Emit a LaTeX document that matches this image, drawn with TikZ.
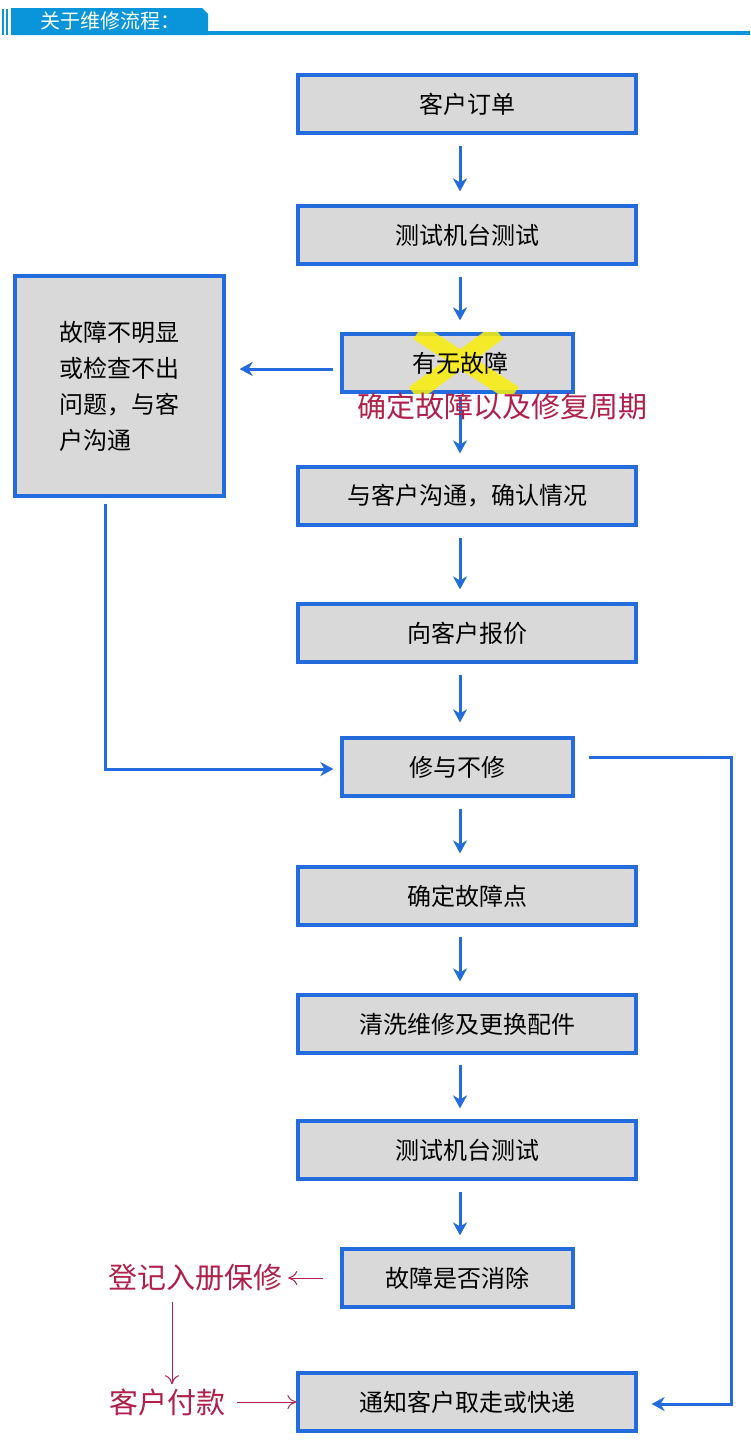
\documentclass[tikz,border=0pt]{standalone}
\usepackage{fontspec}
\setmainfont{Noto Sans CJK SC}
\usetikzlibrary{arrows.meta}
\definecolor{boxblue}{RGB}{36,108,222}
\definecolor{boxgray}{RGB}{217,217,217}
\definecolor{notered}{RGB}{176,32,74}
\definecolor{headblue}{RGB}{10,148,218}
\definecolor{markyellow}{RGB}{250,238,10}

\begin{document}
\begin{tikzpicture}[x=1pt,y=-1pt,
  stage/.style={draw=boxblue,line width=3.2pt,fill=boxgray,minimum height=58pt,inner sep=0pt,font=\fontsize{24}{28}\selectfont},
  wide/.style={stage,minimum width=338pt},
  narrow/.style={stage,minimum width=231pt},
  flow/.style={draw=boxblue,line width=3pt,-{Stealth[length=13pt,width=14pt,inset=4pt]}},
  note/.style={text=notered,inner sep=0pt,font=\fontsize{29}{32}\selectfont},
  memo/.style={draw=notered,line width=1pt,-{To[length=9pt,width=14pt]}}]
  \useasboundingbox (0,0) rectangle (750,1446);
  \fill[headblue] (2,9) rectangle (4,35);
  \fill[headblue] (6,9) rectangle (8,35);
  \fill[headblue] (11,8) -- (202,8) -- (208,14) -- (208,35) -- (11,35) -- cycle;
  \fill[headblue] (208,31) rectangle (750,35);
  \node[anchor=west,text=white,inner sep=0pt,font=\fontsize{20}{22}\selectfont] (title) at (40,21) {关于维修流程：};

  \node[wide] (order) at (467,104) {客户订单};
  \node[wide] (test1) at (467,235) {测试机台测试};
  \node[narrow] (fault) at (457.5,363) {};
  \begin{scope}
    \clip (fault.south west) rectangle (fault.north east);
    \draw[markyellow,line width=17pt,opacity=0.85] (418,332) -- (514,394) (498,332) -- (414,394);
  \end{scope}
  \node[inner sep=0pt,font=\fontsize{24}{28}\selectfont] (faultlabel) at (460,363) {有无故障};
  \node[stage,minimum width=209pt,minimum height=220pt,align=left,font=\fontsize{24}{36}\selectfont] (unclear) at (119.5,386)
    {故障不明显\\或检查不出\\问题，与客\\户沟通\phantom{客户}};
  \node[wide] (talk) at (467,496) {与客户沟通，确认情况};
  \node[wide] (quote) at (467,633) {向客户报价};
  \node[narrow] (repair) at (457.5,767) {修与不修};
  \node[wide] (locate) at (467,896) {确定故障点};
  \node[wide] (clean) at (467,1024) {清洗维修及更换配件};
  \node[wide] (test2) at (467,1150) {测试机台测试};
  \node[narrow] (cleared) at (457.5,1278) {故障是否消除};
  \node[wide] (notify) at (467,1402) {通知客户取走或快递};

  \draw[flow] ([yshift=-11pt]order.south -| faultlabel) -- ([yshift=13pt]test1.north -| faultlabel);
  \draw[flow] ([yshift=-11pt]test1.south -| faultlabel) -- ([yshift=12pt]fault.north -| faultlabel);
  \draw[flow] ([yshift=-3pt]fault.south -| faultlabel) -- ([yshift=12pt]talk.north -| faultlabel);
  \draw[flow] ([yshift=-11pt]talk.south -| faultlabel) -- ([yshift=13pt]quote.north -| faultlabel);
  \draw[flow] ([yshift=-11pt]quote.south -| faultlabel) -- ([yshift=14pt]repair.north -| faultlabel);
  \draw[flow] ([yshift=-11pt]repair.south -| faultlabel) -- ([yshift=12pt]locate.north -| faultlabel);
  \draw[flow] ([yshift=-10pt]locate.south -| faultlabel) -- ([yshift=12pt]clean.north -| faultlabel);
  \draw[flow] ([yshift=-10pt]clean.south -| faultlabel) -- ([yshift=11pt]test2.north -| faultlabel);
  \draw[flow] ([yshift=-11pt]test2.south -| faultlabel) -- ([yshift=12pt]cleared.north -| faultlabel);
  \draw[flow] ([xshift=-7pt,yshift=-6pt]fault.west) -- ([xshift=14pt,yshift=-6pt]fault.west -| unclear.east);
  \draw[flow] ([xshift=-14.5pt,yshift=-6pt]unclear.south) |- ([xshift=-7pt,yshift=-2pt]repair.west);
  \draw[flow] ([xshift=14pt,yshift=10pt]repair.east) -| ([xshift=94pt,yshift=-2pt]notify.east) -- ([xshift=14pt,yshift=-2pt]notify.east);

  \node[note] (period) at (502,406) {确定故障以及修复周期};
  \node[note] (warranty) at (195,1278) {登记入册保修};
  \node[note] (payment) at (167,1402) {客户付款};
  \draw[memo] ([xshift=-17pt]cleared.west) -- ([xshift=6pt]warranty.east);
  \draw[memo] ([xshift=12pt]payment.east) -- (notify.west);
  \draw[memo] ([xshift=-23pt,yshift=-10pt]warranty.south) -- ([xshift=5pt,yshift=4pt]payment.north);
\end{tikzpicture}
\end{document}
